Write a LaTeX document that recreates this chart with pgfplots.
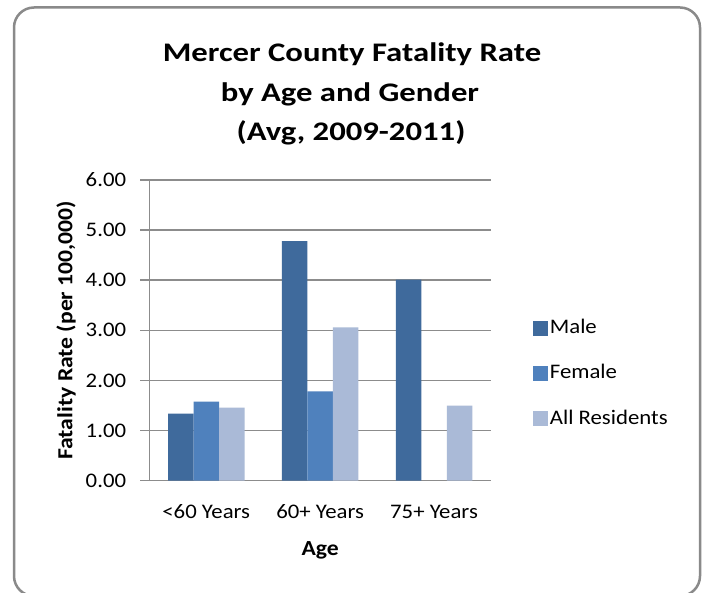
\documentclass[border=0pt]{standalone}
\usepackage{fontspec}
\usepackage{pgfplots}
\pgfplotsset{compat=1.18}
\newfontfamily\cf[FakeStretch=1.1]{Carlito}
\newfontfamily\tf[FakeStretch=1.22]{Carlito}
\definecolor{cMale}{HTML}{3F6A9C}
\definecolor{cFemale}{HTML}{4F81BD}
\definecolor{cAll}{HTML}{AABAD7}
\definecolor{gridc}{HTML}{8C8C8C}
\definecolor{framec}{HTML}{8A8A8A}
\begin{document}
\begin{tikzpicture}
\useasboundingbox (0,0) rectangle (703pt,592pt);
\fill[white] (0,0) rectangle (703pt,592pt);
\draw[framec, line width=2.5pt, rounded corners=20pt] (14pt,-4pt) rectangle (700pt,584.5pt);
\node[font=\tf\bfseries\fontsize{26.8}{30}\selectfont, anchor=base, inner sep=0pt] at (352pt,530.3pt) {Mercer County Fatality Rate};
\node[font=\tf\bfseries\fontsize{26.8}{30}\selectfont, anchor=base, inner sep=0pt] at (350pt,490.3pt) {by Age and Gender};
\node[font=\tf\bfseries\fontsize{26.8}{30}\selectfont, anchor=base, inner sep=0pt] at (351pt,451.3pt) {(Avg, 2009-2011)};
\begin{axis}[
  at={(149.3pt,111.3pt)}, anchor=south west,
  scale only axis, width=341.7pt, height=300.7pt,
  ybar=0pt, bar width=25.5pt,
  xmin=-0.5, xmax=2.5, ymin=0, ymax=6,
  xtick={0,1,2}, xticklabels={{<60 Years},{60+ Years},{75+ Years}},
  ytick={0,1,2,3,4,5,6},
  axis lines*=left,
  axis line style={gridc, line width=1.5pt},
  ymajorgrids, grid style={gridc, line width=1.5pt},
  tick align=outside, major tick length=9pt,
  ytick style={gridc, line width=1.5pt},
  xtick style={draw=none},
  /pgf/number format/.cd, fixed, fixed zerofill, precision=2, assume math mode=true,
  /pgfplots/.cd,
  yticklabel style={font=\cf\fontsize{20.7}{24}\selectfont, anchor=east, inner sep=0pt, xshift=-14pt},
  xticklabel style={font=\cf\fontsize{20.7}{24}\selectfont, anchor=base, inner sep=0pt, yshift=-28.6pt},
  xlabel={Age}, ylabel={Fatality Rate (per 100,000)},
  xlabel style={font=\cf\bfseries\fontsize{21.5}{24}\selectfont, at={(axis description cs:0.5,-0.2504)}, anchor=base, inner sep=0pt},
  ylabel style={font=\cf\bfseries\fontsize{21.5}{24}\selectfont, at={(axis description cs:-0.2250,0.5)}, anchor=base, inner sep=0pt},
  legend cell align=left,
  legend image code/.code={\fill[#1] (0pt,-8pt) rectangle (15pt,7pt);},
  legend style={draw=none, fill=none, at={(1.1229,0.5401)}, anchor=north west, inner sep=0pt,
    font=\cf\fontsize{20.7}{24}\selectfont, row sep=26.8pt,
    nodes={inner sep=0pt, text height=15pt, text depth=3.5pt},
    /tikz/every odd column/.append style={column sep=1.7pt}},
]
\addplot[fill=cMale, draw=none] coordinates {(0,1.34) (1,4.78) (2,4.01)};
\addplot[fill=cFemale, draw=none] coordinates {(0,1.58) (1,1.78)};
\addplot[fill=cAll, draw=none] coordinates {(0,1.46) (1,3.06) (2,1.50)};
\legend{Male,Female,All Residents}
\end{axis}
\end{tikzpicture}
\end{document}
